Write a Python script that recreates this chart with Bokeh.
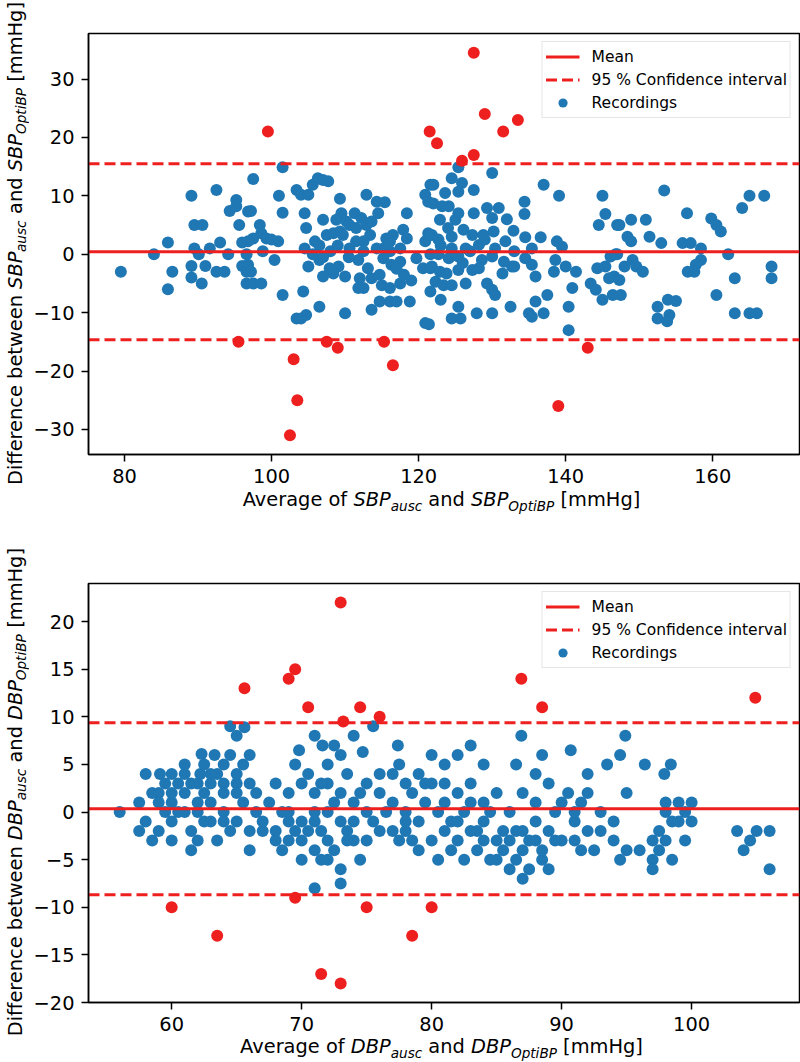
from bokeh.plotting import figure
from bokeh.models import (ColumnDataSource, FixedTicker, CustomJSTickFormatter, Legend,
                          LegendItem, Range1d, Div)
from bokeh.layouts import column, row
from bokeh.embed import file_html
from bokeh.resources import INLINE

# ---------------- data ----------------
sbp_blue_x = [79.5, 84.0, 85.9, 86.5, 85.9, 89.1, 89.5, 90.6, 89.5, 90.1, 89.1, 89.1, 90.5, 91.0, 91.6,
              92.5, 93.0, 92.5, 93.6, 94.1, 94.3, 95.2, 95.2, 95.6, 96.0, 96.0, 96.8, 96.6, 96.6, 96.6,
              97.5, 97.2, 98.4, 98.6, 97.5, 96.8, 99.3, 100.0, 100.9, 98.8, 100.4, 96.8, 97.2, 97.5, 98.6,
              101.5, 101.0, 101.5, 101.5, 103.4, 104.0, 105.0, 105.6, 106.3, 107.0, 107.7, 104.5, 104.7,
              104.5, 105.9, 107.0, 105.0, 106.5, 105.6, 107.0, 107.9, 109.1, 108.4, 110.0, 104.3, 103.4,
              104.7, 106.5, 104.0, 110.0, 109.3, 109.5, 108.8, 107.5, 108.4, 109.3, 109.7, 110.2, 110.6,
              111.3, 111.5, 112.2, 112.9, 114.3, 115.4, 114.5, 112.9, 113.6, 113.4, 112.5, 111.5, 110.6,
              111.8, 112.0, 112.5, 111.8, 113.1, 113.6, 114.7, 115.0, 116.1, 117.5, 114.7, 116.1, 117.0,
              113.6, 118.8, 118.4, 115.6, 116.5, 117.9, 118.4, 115.2, 116.1, 114.3, 116.1, 117.5, 115.2,
              116.3, 117.5, 119.7, 120.6, 120.9, 120.9, 121.3, 121.6, 120.9, 121.3, 121.6, 121.6,
              106.5, 108.0, 109.0, 110.5, 107.0, 112.5, 118.0, 119.0, 117.0,
              125.4, 130.0, 122.0, 124.5, 125.9, 127.5, 123.6, 125.4, 137.0, 139.1, 145.0, 145.4, 144.5,
              147.0, 134.4, 134.4, 130.9, 129.3, 130.0, 127.5, 125.4, 125.0, 122.9, 122.0, 123.2, 124.1,
              132.0, 132.9, 126.1, 127.3, 128.8, 130.2, 124.5, 121.8, 122.7, 134.5, 136.6, 138.8, 139.5,
              131.8, 130.4, 128.2, 135.4, 124.5, 126.4, 122.7, 124.1, 125.4, 128.6, 130.0, 131.6, 132.7,
              134.5, 135.4, 138.6, 140.0, 121.8, 122.9, 123.8, 125.4, 127.3, 128.2, 131.4, 133.0, 135.9,
              138.4, 141.4, 144.3, 145.4, 146.1, 146.8, 145.9, 146.6, 122.3, 123.4, 124.5, 126.4, 121.6,
              123.0, 129.3, 130.0, 130.4, 143.4, 144.1, 140.9, 137.5, 135.9, 145.0, 146.4, 125.4, 124.5,
              125.7, 127.9, 130.0, 132.5, 135.0, 135.4, 137.0, 140.4, 140.4, 121.4,
              123.0, 126.0, 127.0, 129.0, 133.0, 124.0,
              153.4, 165.0, 167.0, 164.0, 156.5, 159.8, 160.5, 161.1, 147.3, 148.9, 150.9, 148.4, 148.9,
              151.4, 153.0, 155.9, 157.0, 158.4, 162.1, 147.0, 158.4, 157.7, 156.6, 157.5, 149.1, 149.6,
              148.0, 150.5, 168.0, 168.0, 163.0, 147.3, 147.5, 160.5, 152.5, 153.9, 155.0, 152.5, 154.1,
              153.8, 163.0, 165.0, 166.0]
sbp_blue_y = [-3, 0, 2, -3, -6, 10, 5, 5, 1, 0, -2, -4, -5, -2, 1,
              11, 2, -3, -3, 0, 7.4, 8.2, 9.3, 5, 2, -2, 7.3, -5, 0, -3,
              12.9, 7.4, 5, 3.6, 2.7, 2.2, 2.7, 2.5, 2.2, 0.5, -1, -1.8, -3, -5, -5,
              -7, 10, 7.1, 14.9, 11, 10.2, 10.2, 11.9, 13, 12.7, 12.5, 7, 4.5,
              1, 2.2, 5.9, -2.1, -1, 0, -3.8, -2.4, -2.1, -3.3, -3.8, -6.4, -11,
              -10.4, -9, -11, -10.1, 9.5, 7, 5.9, 3.3, 3.6, 3.9, 3.3, 5.6, 5,
              7, 4.5, 6.2, 10.2, 9, 8.9, 7, 5, 5.6, 3.3, 2.2, 2.2, 1,
              -1, -4.1, -5.8, -5.8, -2.4, -4.1, -3.5, -5.3, -5.8, -5, -8.1, -8.1, -8.1,
              -9.5, -8.1, 7, 2.7, 3.3, 4.2, 2.7, 1, 2.2, 1, 0.5, 1, -0.7,
              -1.8, -1.3, -0.7, -2.4, -11.8, 10.2, 9, 11.9, 2.2, 3.6, 0, -2.4,
              1.5, 0.5, 1.5, -0.5, -0.5, 0.5, -3.5, -4.5, -2.5,
              14.9, 13.9, 11.9, 13, 12.2, 11, 10.5, 10.7, 11.9, 10, 10, 6.9, 5,
              5, 9, 6.9, 7.9, 7.9, 6.2, 7, 7, 5.9, 5.9, 8.7, 8.2, 8.2,
              6, 4, 4.2, 3.3, 3.3, 3.9, 3, 3.3, 2.5, 2.9, 2.9, 2.2, 1.3,
              2.2, 1, 1.6, 1, 1, 1, 0, -0.7, -0.4, -1, -0.4, -1.3, -2.1,
              -0.7, -1.8, -1, -2.1, -2.1, -3, -3.3, -2.7, -2.7, -2.4, -3.3, -2.1, -3.8,
              -3, -3, -2.4, -2.1, -0.4, 0, -4.1, -3.8, -4.7, -5.3, -5.3, -5, -6.4,
              -7.8, -5, -6.1, -7, -5, -6.1, -5.8, -7, -8.1, -7.8, -7, -9, -11,
              -11, -10.1, -10.1, -9, -10.1, -10.7, -10.1, -9, -13, -12,
              1.5, -1.5, 0.5, 2.5, 0.5, 4.5,
              10.9, 10, 10, 7.9, 7, 6.1, 5, 3.9, 5, 5.9, 5.9, 3, 2.2,
              3, 1.9, 1.9, 1.9, 1, 0, 0, -1, -1.8, -3, -3, -1, -2.1,
              -2.1, -3, -2.1, -4.1, -4.1, -4.4, -7, -7, -9, -7.8, -8, -11, -10.4,
              -11.5, -10.1, -10.1, -10.1]
sbp_red_x = [99.5, 95.5, 103.0, 103.5, 102.5, 107.5, 109.0, 115.3, 116.5, 121.5, 122.5, 125.9,
             127.5, 127.5, 129.0, 131.5, 133.5, 139.0, 143.0]
sbp_red_y = [21, -15, -18, -25, -31, -15, -16, -15, -19, 21, 19, 16, 17, 34.5, 24, 21, 23, -26, -16]
sbp_mean, sbp_upper, sbp_lower = 0.42, 15.49, -14.65

dbp_blue_x = [56, 57.5, 58, 58, 58.5, 59, 59, 59.1, 59.5, 59.5, 60, 60, 60, 60, 60, 60.5, 61, 61, 61,
              61.5, 61.5, 62, 62, 62.2, 62, 62.5, 62.5, 62.3, 63.3, 63, 63, 63.5, 63.5, 64, 64, 64,
              64.5, 64.5, 65, 65, 65, 65, 65, 65.5, 65.6, 66, 66, 66, 66.5, 67, 68, 68, 68.5, 68.5,
              69, 69, 69, 69.5, 69.5, 69.8, 70, 70, 70, 70, 70.5, 71, 71, 71, 71, 71, 71.6, 71.5,
              71.5, 72, 72, 72, 72, 72.5, 72.5, 73, 73, 73, 73, 73.5, 73.5, 74, 74, 74, 74.7, 74.5,
              75, 75, 75.5, 75.5, 76, 76, 77, 77.4, 77, 77, 77.5, 78, 78, 78, 78.5, 79, 79, 79, 79.5,
              80, 80, 80, 80.5, 81, 81, 81, 81.5, 82, 82, 82, 82.5, 83, 83, 83, 83.5, 84, 84, 84,
              84.5, 85, 85, 85.5, 86, 86, 86.5, 86.5, 86.9, 87, 87, 87, 87.5, 88, 88, 88.5, 88.5,
              89, 89, 89.5, 90, 90.7, 90.5, 91, 91, 91.5, 92, 92, 92.5, 93, 93.5, 94, 94.5, 94.9,
              94.5, 95, 95, 96.4, 97, 97, 97.5, 97.5, 97.9, 98.4, 98, 98, 98, 98.5, 99, 99.5, 99.5,
              100, 100, 103.5, 104, 104.5, 105, 106, 106,
              57.5, 58.5, 59, 60.5, 61, 61.5, 62, 62.5, 63, 63, 64, 64, 64.5, 65.5, 66, 66.5, 67,
              67.5, 68, 69, 70.5, 71, 71.5, 72, 72.5, 73, 73.5, 74, 74.5, 75, 76, 76.5, 77.5, 78,
              78.5, 79.5, 80.5, 81, 81.5, 82, 82.5, 83, 83.5, 84, 84.5, 85, 85.5, 86, 86.5, 87,
              87.5, 88, 88, 88.5, 89, 89.5, 90, 91, 91.5, 92, 93, 94, 96, 97, 98.5, 99]
dbp_blue_y = [0, 1, -1, 4, -3, -2, 2, 4, 0, 3, 4, -1, -3, 1, 2, 0, 4, 2, 0,
              -2, -4, 1, 3, 4, -3, 5, 2, 6.1, 6, -1, 3, -3, 4, 5, 0, -1,
              6, 9, 8, 3, 4, 2, -1, 5, 8.9, 6, -2, -4, 0, -2, 3, -2, -4, 0,
              2, -3, -1, 5, -2, 6.5, 3, -1, -3, -5, 4, 8, 2, -1, -4, -8, 7, -2,
              -5, 5, 3, 0, -3, 7, -4, 6, -1, -6, -7.5, 4, -2, 8, 1, -3, 6.3, -5,
              3, 0, 9, -1, 2, -2, 4, 7, 1, -2, 5, 3, 0, -2, 2, -1, 4, -4, 1,
              6, 3, -3, -5, 5, -2, 1, -1, 6, -3, 2, 0, 7, -2, 3, -4, 5, 1, -1,
              -5, -3, 2, -4, 0, -6, 5, -2, 8, -7, -4, 2, -3, -1, 4, -5, 6,
              3, -2, 0, -3, 6.5, 2, -1, -3, 1, -2, 2, -4, 0, 5, -3, 6, 8,
              -5, -4, 2, 5, -5, -6, -2, -4, 4, 5, 1, 0, -3, -1, 1, 0, -3,
              -1, 1, -2, -4, -3, -2, -2, -6,
              -2, 2, 1, 3, 5, 3, 0, -1, 4, 1, 2, 3, -2, 1, 3, 2, -1,
              1, -3, 0, -2, 0, 3, -5, 1, 2, -3, -1, 2, -3, 4, 0, -3, -1,
              -3, 3, 0, 3, -4, -1, -5, 1, -2, -3, 0, -5, -2, -3, -5, -2,
              -6, -3, 1, -4, -6, -3, 1, 0, -4, 4, -2, -1, -4, -3, -5, -1]
dbp_red_x = [65.6, 69.0, 69.5, 70.5, 73.0, 73.2, 74.5, 76.0, 86.9, 88.5, 104.9,
             60.0, 63.5, 69.5, 71.5, 73.0, 75.0, 78.5, 80.0]
dbp_red_y = [13, 14, 15, 11, 22, 9.5, 11, 10, 14, 11, 12, -10, -13, -9, -17, -18, -10, -13, -10]
dbp_mean, dbp_upper, dbp_lower = 0.35, 9.38, -8.68

sbp_xticks = [80, 100, 120, 140, 160]
sbp_yticks = [-30, -20, -10, 0, 10, 20, 30]
dbp_xticks = [60, 70, 80, 90, 100]
dbp_yticks = [-20, -15, -10, -5, 0, 5, 10, 15, 20]

BLUE = "#1f77b4"
RED = "#ee1f1f"
FONT = "DejaVu Sans"
TICK_PX = 19.4
LEG_PX = 15.5
FW = 711
YL_W = 30          # width of the y-label strip
BORDER_L = 56      # figure border left of the frame (tick labels)
BORDER_R = 2
FIG_W = BORDER_L + FW + BORDER_R


def label_html(head, var, vertical):
    shift = "left:-4.5px" if vertical else "top:4.5px"

    def sub(t):
        return (f'<span style="position:relative;{shift};font-size:13.6px;'
                f'font-style:italic">{t}</span>')
    return (f'{head}<i>{var}</i>{sub("ausc")} and <i>{var}</i>{sub("OptiBP")} [mmHg]')


def xlabel_div(var, height, line_h):
    inner = (f'<div style="width:{FW}px;margin-left:{BORDER_L}px;text-align:center;'
             f'white-space:nowrap;font-family:\'{FONT}\';font-size:{TICK_PX}px;'
             f'line-height:{line_h}px;color:#000">'
             f'{label_html("Average of ", var, False)}</div>')
    return Div(text=inner, width=FIG_W, height=height, margin=(0, 0, 0, 0))


def ylabel_div(var, height, center):
    inner = (f'<div style="width:{YL_W}px;height:{2 * center}px;display:flex;'
             f'align-items:center;justify-content:flex-start">'
             f'<div style="margin-left:8px;writing-mode:vertical-rl;transform:rotate(180deg);'
             f'white-space:nowrap;font-family:\'{FONT}\';font-size:{TICK_PX}px;'
             f'line-height:16px;color:#000">'
             f'{label_html("Difference between ", var, True)}</div></div>')
    return Div(text=inner, width=YL_W, height=height, margin=(0, 0, 0, 0))


def make_plot(bx, by, rx, ry, mean, upper, lower, xr, yr, xt, yt, fh, bt, bb):
    p = figure(frame_width=FW, frame_height=fh, output_backend="svg", toolbar_location=None,
               x_range=Range1d(*xr), y_range=Range1d(*yr),
               min_border_left=BORDER_L, min_border_right=BORDER_R,
               min_border_top=bt, min_border_bottom=bb)
    p.background_fill_color = "white"
    p.border_fill_color = "white"
    p.outline_line_color = "black"
    p.outline_line_width = 1.5
    p.xgrid.visible = False
    p.ygrid.visible = False

    fmt = "return tick < 0 ? '\\u2212' + Math.abs(tick) : tick.toString();"
    for ax, ticks in ((p.xaxis[0], xt), (p.yaxis[0], yt)):
        ax.ticker = FixedTicker(ticks=ticks)
        ax.formatter = CustomJSTickFormatter(code=fmt)
        ax.axis_line_color = "black"
        ax.axis_line_width = 1.5
        ax.major_tick_line_color = "black"
        ax.major_tick_line_width = 1.5
        ax.major_tick_out = 7
        ax.major_tick_in = 0
        ax.minor_tick_out = 0
        ax.minor_tick_in = 0
        ax.major_label_text_font = FONT
        ax.major_label_text_font_size = f"{TICK_PX}px"
        ax.major_label_text_color = "black"
        ax.major_label_standoff = 7

    src_b = ColumnDataSource(dict(x=bx, y=by))
    src_r = ColumnDataSource(dict(x=rx, y=ry))
    rec = p.scatter("x", "y", source=src_b, size=12, color=BLUE, line_color=None)
    p.scatter("x", "y", source=src_r, size=12, color=RED, line_color=None)

    xs = [xr[0], xr[1]]
    r_mean = p.line(x=xs, y=[mean, mean], line_color=RED, line_width=2.9)
    r_ci = p.line(x=xs, y=[upper, upper], line_color=RED, line_width=2.9, line_dash="11 5")
    p.line(x=xs, y=[lower, lower], line_color=RED, line_width=2.9, line_dash="11 5")

    leg = Legend(items=[LegendItem(label="Mean", renderers=[r_mean]),
                        LegendItem(label="95 % Confidence interval", renderers=[r_ci]),
                        LegendItem(label="Recordings", renderers=[rec])],
                 location="top_right")
    leg.margin = 8
    leg.padding = 3
    leg.spacing = 0
    leg.glyph_width = 34
    leg.glyph_height = 23
    leg.label_height = 23
    leg.label_standoff = 12
    leg.label_text_font = FONT
    leg.label_text_font_size = f"{LEG_PX}px"
    leg.label_text_color = "black"
    leg.border_line_color = "#cccccc"
    leg.border_line_width = 1.4
    leg.background_fill_color = "white"
    leg.background_fill_alpha = 0.8
    p.add_layout(leg)
    return p


# top panel: frame 33..454, x-label baseline ~507
p1 = make_plot(sbp_blue_x, sbp_blue_y, sbp_red_x, sbp_red_y, sbp_mean, sbp_upper, sbp_lower,
               (75.1, 171.8), (-34.3, 37.8), sbp_xticks, sbp_yticks, 421, 33, 37)
xl1 = xlabel_div("SBP", 49, 18.6)
yl1 = ylabel_div("SBP", 540, 243.5)

# bottom panel: frame 583..1002, x-label baseline ~1054
p2 = make_plot(dbp_blue_x, dbp_blue_y, dbp_red_x, dbp_red_y, dbp_mean, dbp_upper, dbp_lower,
               (53.6, 108.3), (-20.0, 24.0), dbp_xticks, dbp_yticks, 419, 43, 37)
xl2 = xlabel_div("DBP", 23, 16.6)
yl2 = ylabel_div("DBP", 522, 252.5)

layout = column(row(yl1, column(p1, xl1)), row(yl2, column(p2, xl2)))
open("out.html", "w").write(file_html(layout, INLINE))
